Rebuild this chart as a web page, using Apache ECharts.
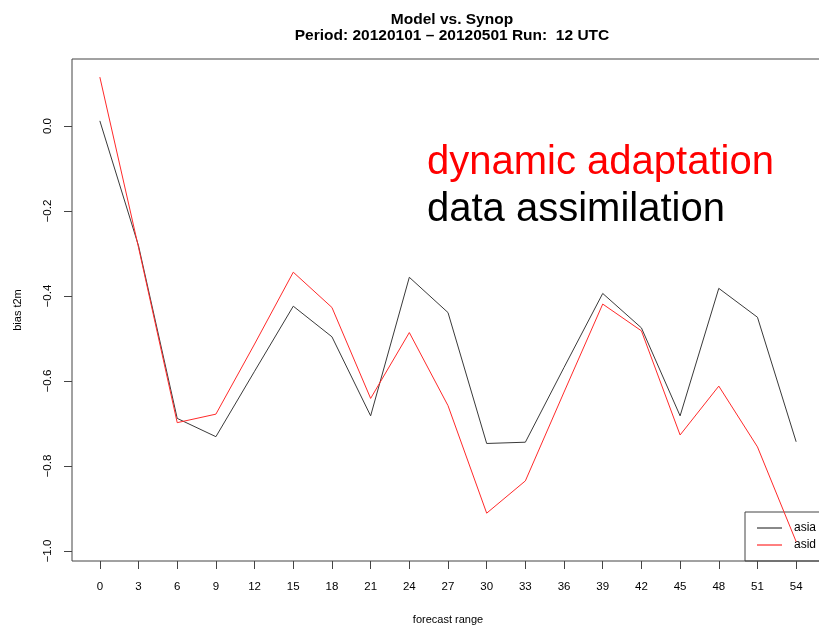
<!DOCTYPE html>
<html>
<head>
<meta charset="utf-8">
<script src="https://cdn.jsdelivr.net/npm/echarts@6/dist/echarts.min.js"></script>
<style>html,body{margin:0;padding:0;background:#fff;}#c{width:819px;height:627px;}</style>
</head>
<body>
<div id="c"></div>
<script>
var forecastRange = [0, 3, 6, 9, 12, 15, 18, 21, 24, 27, 30, 33, 36, 39, 42, 45, 48, 51, 54];
var asia = [0.012, -0.282, -0.688, -0.731, -0.577, -0.424, -0.496, -0.682, -0.356, -0.439, -0.747, -0.744, -0.568, -0.394, -0.475, -0.682, -0.382, -0.450, -0.743];
var asid = [0.115, -0.286, -0.698, -0.678, -0.513, -0.344, -0.427, -0.641, -0.486, -0.658, -0.911, -0.835, -0.626, -0.419, -0.482, -0.727, -0.612, -0.755, -0.978];
var yTicks = [-1.0, -0.8, -0.6, -0.4, -0.2, 0.0];
var xTicks = forecastRange;

var FONT = 'Liberation Sans';
function pairs(xs, ys) { return xs.map(function (x, i) { return [x, ys[i]]; }); }

var chart = echarts.init(document.getElementById('c'), null, { renderer: 'canvas' });
chart.setOption({
  animation: false,
  backgroundColor: '#fff',
  title: {
    text: 'Model vs. Synop\nPeriod: 20120101 \u2013 20120501 Run:  12 UTC',
    left: 447, top: 6, textAlign: 'center',
    textStyle: { fontFamily: FONT, fontWeight: 'bold', fontSize: 15.5, color: '#000', lineHeight: 16.5 }
  },
  grid: { left: 72, top: 59, width: 752, height: 502, outerBoundsMode: 'none', containLabel: false,
    show: true, borderColor: '#444', borderWidth: 1, backgroundColor: 'transparent' },
  xAxis: {
    type: 'value', min: -2.16, max: 56.16,
    name: 'forecast range', nameLocation: 'middle', nameGap: 53,
    nameTextStyle: { fontFamily: FONT, fontSize: 11, color: '#000' },
    axisLine: { show: false, onZero: false },
    splitLine: { show: false },
    axisTick: { show: true, length: 8, inside: false, customValues: xTicks, lineStyle: { color: '#444' } },
    axisLabel: { customValues: xTicks, margin: 20, fontFamily: FONT, fontSize: 11.5, color: '#000' }
  },
  yAxis: {
    type: 'value', min: -1.0235, max: 0.1576,
    name: 'bias t2m', nameLocation: 'middle', nameGap: 49, nameRotate: 90,
    nameTextStyle: { fontFamily: FONT, fontSize: 11, color: '#000' },
    axisLine: { show: false, onZero: false },
    splitLine: { show: false },
    axisTick: { show: true, length: 8, customValues: yTicks, lineStyle: { color: '#444' } },
    axisLabel: { customValues: yTicks, rotate: 90, margin: 18, fontFamily: FONT, fontSize: 11.5, color: '#000',
      formatter: function (v) { return (v < 0 ? '\u2212' : '') + Math.abs(v).toFixed(1); } }
  },
  legend: {
    orient: 'vertical', left: 745, top: 512,
    padding: [9, 40, 9, 12], itemWidth: 25, itemHeight: 1.2, itemGap: 3, icon: 'rect',
    borderColor: '#444', borderWidth: 1, backgroundColor: 'transparent',
    textStyle: { fontFamily: FONT, fontSize: 12, color: '#000', lineHeight: 14, padding: [0, 0, 0, 7] },
    data: ['asia', 'asid']
  },
  series: [
    { name: 'asia', type: 'line', data: pairs(forecastRange, asia), symbol: 'none', z: 3,
      lineStyle: { color: '#3a3a3a', width: 1 }, itemStyle: { color: '#3a3a3a' } },
    { name: 'asid', type: 'line', data: pairs(forecastRange, asid), symbol: 'none', z: 4,
      lineStyle: { color: '#ff2a2a', width: 1 }, itemStyle: { color: '#ff2a2a' } }
  ],
  graphic: [
    { type: 'text', left: 427, top: 143, z: 10,
      style: { text: 'dynamic adaptation', font: '40px "Liberation Sans"', fill: '#ff0000' } },
    { type: 'text', left: 427, top: 190, z: 10,
      style: { text: 'data assimilation', font: '40px "Liberation Sans"', fill: '#000' } }
  ]
});
</script>
</body>
</html>
